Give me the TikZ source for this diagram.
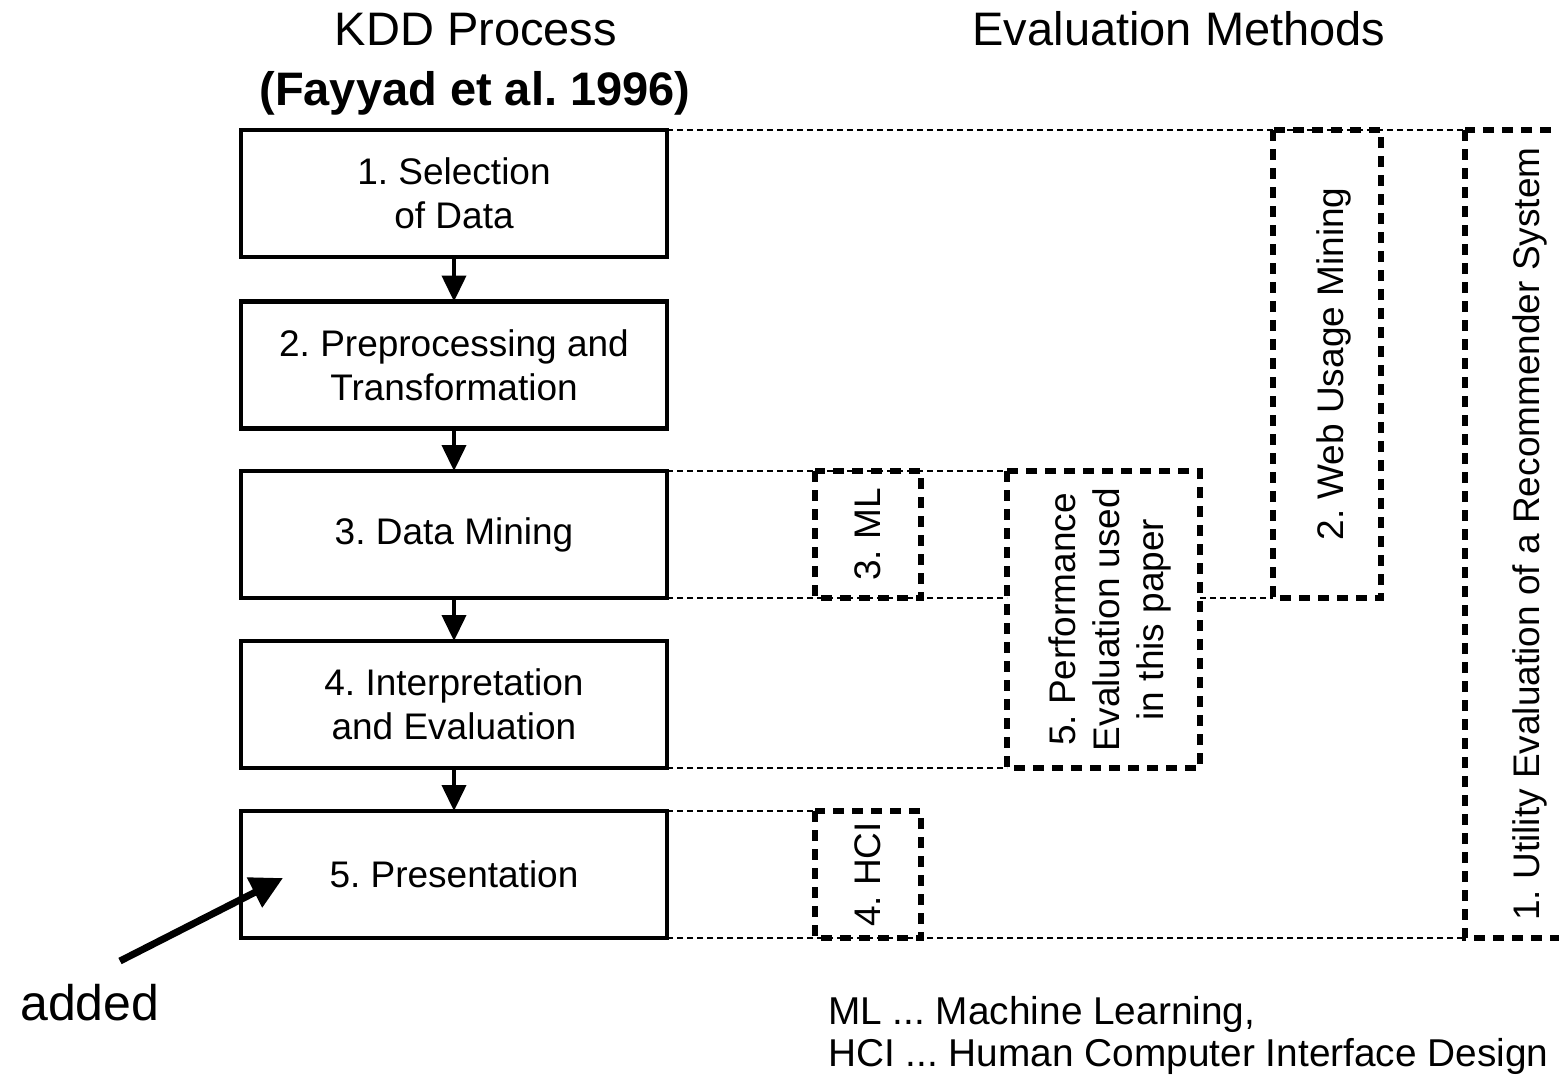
\documentclass[tikz,border=0pt]{standalone}
\usepackage{fontspec}
\setmainfont{Liberation Sans}
\usetikzlibrary{arrows.meta}
\newcommand{\rtext}[2]{\raisebox{-#1pt}[\height][\depth]{\begin{tabular}{@{}c@{}}#2\end{tabular}}}
\begin{document}
\frenchspacing
\begin{tikzpicture}[x=1pt,y=-1pt,
  kdd/.style={draw, line width=4.5pt, minimum width=426pt, minimum height=127pt,
    inner sep=0pt, outer sep=0pt, align=center, font=\fontsize{37}{44}\selectfont},
  evalbox/.style={draw, line width=6pt, dash pattern=on 11pt off 8pt, inner sep=0pt,
    outer sep=0pt, rotate=90, font=\fontsize{37}{44}\selectfont},
  guide/.style={line width=1.3pt, dash pattern=on 6pt off 4pt},
  flow/.style={line width=4pt, -{Triangle[length=26pt,width=24pt]}},
  pointer/.style={line width=7pt, -{Triangle[length=32pt,width=32pt]}},
  head/.style={anchor=base, inner sep=0pt},
  legend/.style={anchor=base west, inner sep=0pt, font=\fontsize{38.8}{44}\selectfont},
]
\fill[white] (0,0) rectangle (1559,1077);
\useasboundingbox (0,0) rectangle (1559,1077);
\clip (0,0) rectangle (1559,1077);

% headers
\node[head, font=\fontsize{47}{50}\selectfont] (kddtitle) at (476,45) {KDD Process};
\node[head, font=\fontsize{47}{50}\selectfont\bfseries] (fayyad) at (475,105) {(Fayyad et al. 1996)};
\node[head, font=\fontsize{47}{50}\selectfont] (evaltitle) at (1179,45) {Evaluation Methods};

% KDD process boxes
\node[kdd] (b1) at (454,193.5) {1. Selection\\of Data};
\node[kdd] (b2) at (454,365) {2. Preprocessing and\\Transformation};
\node[kdd] (b3) at (454,534.5) {3. Data Mining};
\node[kdd] (b4) at (454,704.5) {4. Interpretation\\and Evaluation};
\node[kdd] (b5) at (454,874.5) {5. Presentation};

\draw[flow] (b1) -- (b2);
\draw[flow] (b2) -- (b3);
\draw[flow] (b3) -- (b4);
\draw[flow] (b4) -- (b5);

% evaluation method boxes
\node[evalbox, minimum width=127pt, minimum height=106pt] (ml) at (868,534.5) {\rtext{4}{3. ML}};
\node[evalbox, minimum width=127pt, minimum height=106pt] (hci) at (868,874.5) {\rtext{4}{4. HCI}};
\node[evalbox, minimum width=297pt, minimum height=193pt] (perf) at (1103.5,619.5)
  {\rtext{7}{5. Performance\\Evaluation used\\in this paper}};
\node[evalbox, minimum width=468pt, minimum height=108pt] (web) at (1327,364) {\rtext{8}{2. Web Usage Mining}};
\node[evalbox, minimum width=808pt, minimum height=128pt] (util) at (1529,534)
  {\rtext{2}{1. Utility Evaluation of a Recommender System}};

% guide lines
\draw[guide] (b1.north east) -- (b1.north east -| util.north);
\draw[guide] (b3.north east) -- (b3.north east -| perf.north);
\draw[guide] (b3.south east) -- (b3.south east -| perf.north);
\draw[guide] (b3.south east -| perf.south) -- (b3.south east -| web.north);
\draw[guide] (b4.south east) -- (b4.south east -| perf.north);
\draw[guide] (b5.north east) -- (b5.north east -| hci.north);
\draw[guide] (b5.south east) -- (b5.south east -| util.north);

% added pointer
\node[anchor=base west, inner sep=0pt, font=\fontsize{50}{60}\selectfont] (added) at (20,1020) {added};
\coordinate (pstart) at (120,961);
\coordinate (ptip) at (283,878);
\draw[pointer] (pstart) -- (ptip);

% legend
\node[legend] (leg1) at (828,1024) {ML ... Machine Learning,};
\node[legend] (leg2) at (828,1066) {HCI ... Human Computer Interface Design};
\end{tikzpicture}
\end{document}
